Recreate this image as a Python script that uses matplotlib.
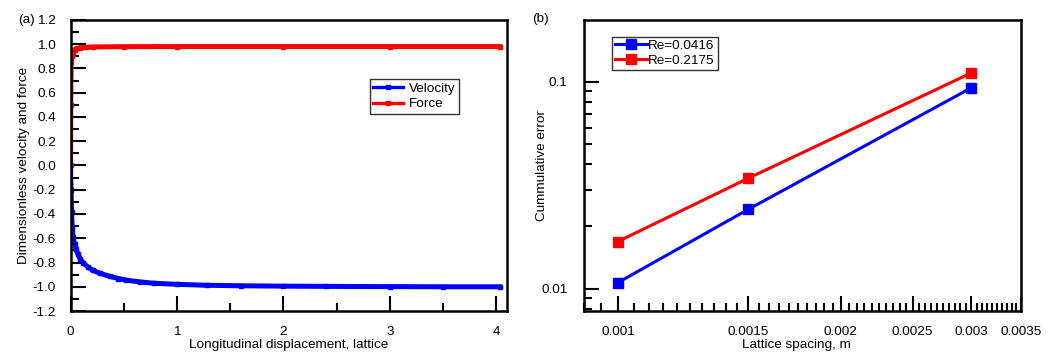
import numpy as np
import matplotlib
matplotlib.use('Agg')
import matplotlib.pyplot as plt
from matplotlib.ticker import MultipleLocator, FixedLocator, NullFormatter, LogLocator

plt.rcParams['font.family'] = ['Liberation Sans', 'DejaVu Sans']
plt.rcParams['font.size'] = 9.7
plt.rcParams['axes.unicode_minus'] = False

# --- (a) velocity / force vs displacement ---
vel_x = [0, 0.005, 0.01, 0.016, 0.025, 0.038, 0.05, 0.07, 0.09, 0.116, 0.16, 0.21,
         0.28, 0.37, 0.45, 0.525, 0.65, 0.78, 1.0, 1.28, 1.6, 2.0, 2.4, 3.0, 3.5, 4.03]
vel_y = [0, -0.2, -0.38, -0.52, -0.59, -0.65, -0.69, -0.73, -0.77, -0.80, -0.835, -0.865,
         -0.89, -0.915, -0.932, -0.946, -0.96, -0.971, -0.98, -0.988, -0.992, -0.995,
         -0.997, -0.999, -1.0, -1.0]
force_x = [0, 0.003, 0.006, 0.01, 0.02, 0.038, 0.06, 0.085, 0.15, 0.21, 0.5, 1.0,
           2.0, 3.0, 4.03]
force_y = [0, 0.5, 0.85, 0.9, 0.935, 0.955, 0.965, 0.97, 0.975, 0.978, 0.98, 0.981,
           0.981, 0.981, 0.981]

# --- (b) cumulative error vs lattice spacing ---
spacing = [0.001, 0.0015, 0.003]
err_re1 = [0.0107, 0.0242, 0.0936]
err_re2 = [0.0169, 0.0342, 0.1105]
labels_b = ['Re=0.0416', 'Re=0.2175']
xticks_b = [0.001, 0.0015, 0.002, 0.0025, 0.003, 0.0035]
xtick_labels_b = ['0.001', '0.0015', '0.002', '0.0025', '0.003', '0.0035']
yticks_b = [0.01, 0.1]
ytick_labels_b = ['0.01', '0.1']

W, H = 1054, 356
fig = plt.figure(figsize=(W / 100, H / 100), dpi=100)


def box(l, r, t, b):
    return [l / W, 1 - b / H, (r - l) / W, (b - t) / H]


ax1 = fig.add_axes(box(70.5, 507, 20, 311))
ax2 = fig.add_axes(box(584, 1021, 20, 311))

for ax in (ax1, ax2):
    for s in ax.spines.values():
        s.set_linewidth(1.8)
    ax.tick_params(which='both', direction='in', top=False, right=False, width=1.5)
    ax.tick_params(which='major', length=10.5)
    ax.tick_params(which='minor', length=5.5)

# --- panel (a) ---
ax1.plot(vel_x, vel_y, 's-', color='#0000ff', lw=3.6, ms=3.0, label='Velocity')
ax1.plot(force_x, force_y, 's-', color='#ff0000', lw=3.6, ms=3.0, label='Force')
ax1.set_xlim(0, 4.1)
ax1.set_ylim(-1.2, 1.2)
ax1.xaxis.set_major_locator(MultipleLocator(1))
ax1.xaxis.set_minor_locator(MultipleLocator(0.5))
ax1.yaxis.set_major_locator(MultipleLocator(0.2))
ax1.yaxis.set_minor_locator(MultipleLocator(0.1))
ax1.yaxis.set_major_formatter(plt.FuncFormatter(lambda v, p: '%.1f' % v))
ax1.tick_params(axis='x', pad=10.5)
ax1.tick_params(axis='y', pad=10.5)
ax1.set_xlabel('Longitudinal displacement, lattice')
ax1.set_ylabel('Dimensionless velocity and force')
ax1.xaxis.set_label_coords(0.5, -0.095)
ax1.yaxis.set_label_coords(-0.093, 0.5)
leg1 = ax1.legend(loc='upper left', bbox_to_anchor=(0.685, 0.796), borderaxespad=0,
                  frameon=True, fancybox=False, handlelength=2.2, handletextpad=0.45,
                  borderpad=0.25, labelspacing=0.2)
leg1.get_frame().set_edgecolor('black')
leg1.get_frame().set_linewidth(1.0)
for h in leg1.get_lines():
    h.set_linewidth(2.4)

# --- panel (b) ---
ax2.plot(spacing, err_re1, 's-', color='#0000ff', lw=2.2, ms=6.5, label=labels_b[0])
ax2.plot(spacing, err_re2, 's-', color='#ff0000', lw=2.2, ms=6.5, label=labels_b[1])
ax2.set_xscale('log')
ax2.set_yscale('log')
ax2.set_xlim(0.0009, 0.0035)
ax2.set_ylim(0.0078, 0.199)
ax2.xaxis.set_major_locator(FixedLocator(xticks_b))
ax2.xaxis.set_major_formatter(plt.FixedFormatter(xtick_labels_b))
ax2.xaxis.set_minor_locator(MultipleLocator(0.00005))
ax2.xaxis.set_minor_formatter(NullFormatter())
ax2.yaxis.set_major_locator(FixedLocator(yticks_b))
ax2.yaxis.set_major_formatter(plt.FixedFormatter(ytick_labels_b))
ax2.yaxis.set_minor_locator(LogLocator(base=10, subs=np.arange(2, 10)))
ax2.yaxis.set_minor_formatter(NullFormatter())
ax2.tick_params(axis='x', pad=10.5)
ax2.tick_params(axis='y', pad=12)
ax2.set_xlabel('Lattice spacing, m')
ax2.set_ylabel('Cummulative error')
ax2.xaxis.set_label_coords(0.485, -0.095)
ax2.yaxis.set_label_coords(-0.082, 0.5)
leg2 = ax2.legend(loc='upper left', bbox_to_anchor=(0.064, 0.942), borderaxespad=0,
                  frameon=True, fancybox=False, handlelength=2.4, handletextpad=0.1,
                  borderpad=0.2, labelspacing=0.2)
leg2.get_frame().set_edgecolor('black')
leg2.get_frame().set_linewidth(1.0)

fig.text(18 / W, 1 - 20 / H, '(a)', ha='left', va='center')
fig.text(532 / W, 1 - 19 / H, '(b)', ha='left', va='center')

fig.savefig('out.png', dpi=100)
